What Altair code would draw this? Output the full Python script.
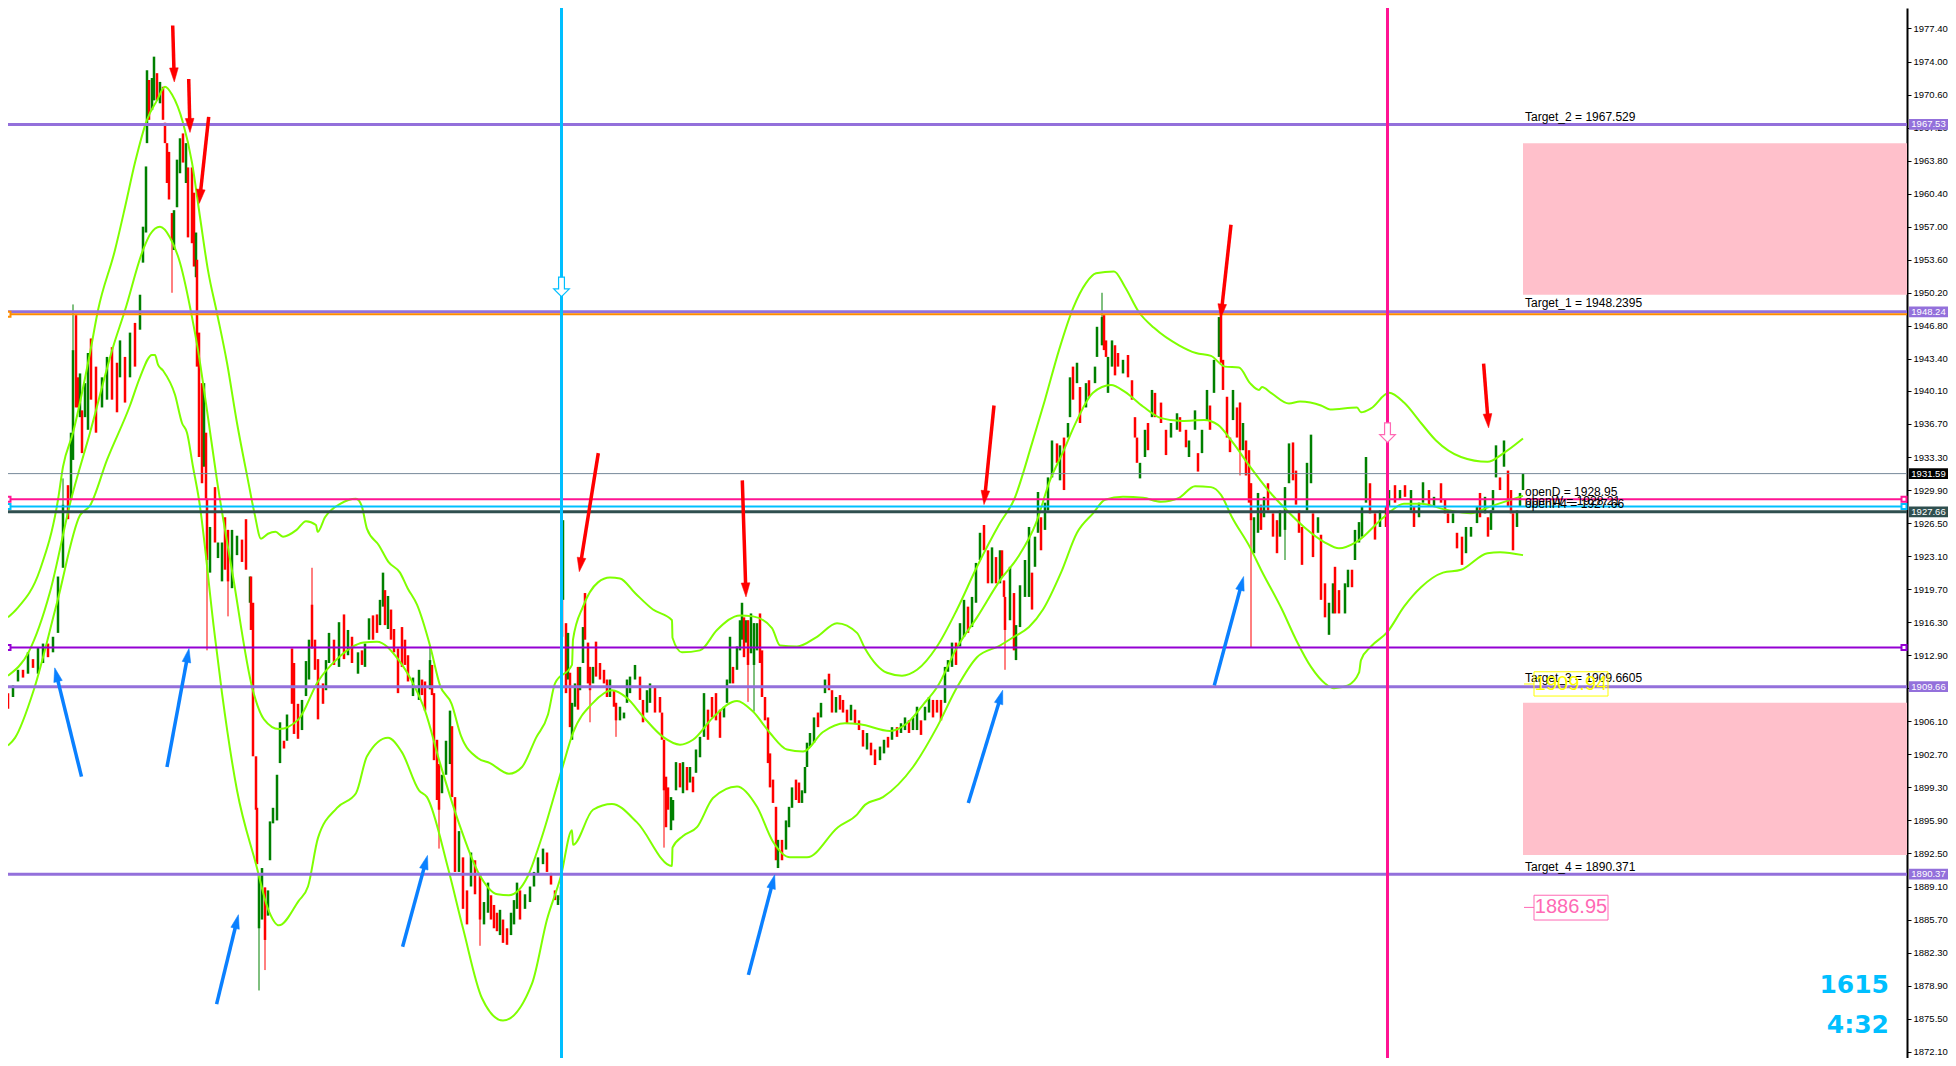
import math
import altair as alt
import pandas as pd

# candle rows: (bar, open, close)
seg_a = [(0,1909.0,1907.4),(5,1908.6,1909.8),(10,1910.2,1911.4),(15,1911.4,1910.6),(20,1911.0,1913.2),(25,1912.5,1911.6),(30,1911.0,1913.7),(35,1912.1,1914.1),(40,1914.1,1912.7),(45,1913.2,1914.8),(50,1915.2,1921.0),(55,1921.9,1928.4),(60,1930.4,1926.9),(63,1928.9,1935.8),(65,1933.0,1944.3),(68,1947.9,1938.4),(70,1941.5,1938.4),(72,1937.4,1941.9),(74,1938.1,1933.7),(77,1937.4,1940.9),(80,1936.1,1944.0),(83,1945.5,1939.2),(88,1942.6,1935.8),(94,1938.4,1941.5),(99,1939.2,1943.6),(104,1944.6,1939.2),(109,1943.0,1937.9),(112,1941.5,1945.3),(117,1943.6,1938.9),(122,1941.5,1946.1),(127,1947.1,1942.6),(132,1946.4,1950.0),(135,1953.3,1957.0),(138,1956.4,1963.2),(139,1965.6,1973.1),(141,1972.1,1968.0),(144,1969.0,1972.3),(146,1970.0,1974.5),(149,1972.8,1970.0),(152,1969.7,1971.9),(155,1971.4,1968.0),(157,1967.7,1965.6),(159,1965.6,1961.5),(161,1964.7,1959.8),(164,1958.4,1955.6),(166,1954.6,1958.7),(169,1959.0,1963.9),(172,1962.5,1966.1),(175,1966.6,1963.6),(178,1961.5,1965.6),(180,1963.1,1955.9),(184,1963.1,1955.3),(186,1960.5,1952.9),(188,1951.8,1956.4),(189,1953.6,1942.6),(191,1946.1,1933.3),(194,1940.9,1930.6),(196,1932.3,1940.9),(198,1935.8,1929.0),(199,1929.0,1922.7)]
seg_b = [(202,1921.4,1926.1),(207,1930.2,1924.5),(210,1922.9,1924.5),(214,1920.5,1924.5),(217,1927.1,1921.7),(220,1925.8,1920.5),(224,1919.8,1925.8),(229,1923.2,1925.2),(234,1924.8,1922.5),(238,1926.9,1921.7),(242,1918.3,1921.0),(243,1921.0,1915.5),(245,1918.3,1902.5),(248,1902.5,1897.0),(249,1897.2,1891.4),(251,1884.8,1890.3),(254,1885.7,1891.0),(257,1889.0,1883.6),(260,1886.1,1888.7),(262,1891.8,1895.8),(265,1895.6,1897.2),(269,1895.9,1900.6),(272,1901.8,1906.0),(276,1904.1,1903.3),(279,1904.1,1906.8),(284,1913.6,1907.9),(286,1912.1,1904.8),(290,1907.9,1904.3),(294,1905.2,1908.3),(298,1908.7,1912.3),(301,1910.4,1914.5),(304,1918.1,1913.6),(307,1914.5,1911.4),(310,1912.5,1906.3),(315,1910.0,1907.9),(318,1909.3,1912.4),(321,1912.1,1915.2),(326,1914.5,1911.9),(331,1911.7,1916.3),(336,1917.1,1912.5),(340,1912.9,1915.5),(344,1914.8,1912.1),(350,1911.0,1913.2),(354,1913.4,1911.9),(357,1911.7,1914.1),(361,1914.5,1916.7),(365,1917.0,1914.5),(369,1917.1,1915.2),(372,1916.0,1918.6),(375,1917.9,1921.4),(377,1919.6,1916.0),(380,1915.6,1919.0),(383,1917.6,1914.5),(386,1915.6,1913.2),(390,1913.6,1909.0),(394,1915.8,1911.7),(397,1914.5,1911.9),(400,1912.9,1910.2)]
seg_c = [(405,1908.7,1910.6),(411,1908.3,1911.4),(414,1910.4,1908.8),(417,1910.2,1907.2),(422,1909.4,1912.4),(424,1911.9,1908.8),(426,1909.0,1902.1),(429,1904.2,1898.0),(431,1901.7,1897.0),(434,1898.7,1900.6),(438,1900.6,1904.1),(442,1901.7,1907.2),(444,1905.6,1898.3),(447,1898.3,1890.6),(451,1890.6,1894.8),(455,1892.1,1886.8),(459,1888.7,1885.2),(463,1889.1,1892.6),(467,1891.8,1888.3),(472,1890.3,1885.7),(476,1885.2,1887.5),(480,1886.4,1889.5),(483,1888.2,1885.7),(486,1887.2,1884.8),(489,1886.4,1884.5),(492,1884.1,1886.7),(495,1885.7,1883.3),(499,1884.8,1883.1),(503,1884.1,1886.4),(506,1885.2,1887.7),(509,1886.8,1889.5),(512,1888.7,1885.7),(517,1886.8,1888.3),(522,1887.5,1889.1),(526,1889.1,1890.6),(530,1890.3,1892.1),(535,1891.4,1893.0),(539,1892.6,1890.6),(543,1890.5,1889.3),(547,1888.7,1887.7),(550,1887.2,1888.2),(553,1887.7,1889.1),(554,1922.7,1914.8),(555,1918.6,1926.8),(558,1916.2,1909.0),(560,1910.4,1915.2),(562,1911.1,1905.5),(564,1904.2,1908.0),(567,1907.6,1910.0),(570,1911.7,1907.3),(572,1909.3,1911.7),(575,1912.1,1915.8),(577,1919.3,1914.5),(580,1914.2,1910.0),(582,1911.7,1909.3),(585,1910.0,1911.7),(588,1914.3,1910.7),(592,1912.1,1910.4),(596,1911.4,1910.0),(599,1910.4,1908.6)]
seg_d = [(602,1908.6,1910.4),(606,1909.3,1907.6),(608,1908.0,1906.2),(612,1906.2,1907.6),(616,1906.4,1907.0),(619,1908.0,1910.4),(622,1909.0,1910.7),(627,1910.4,1911.9),(632,1910.7,1908.3),(635,1908.3,1906.0),(639,1907.0,1909.3),(642,1908.0,1910.0),(647,1909.6,1907.0),(652,1908.6,1907.0),(654,1907.0,1904.2),(656,1904.2,1899.0),(658,1900.4,1895.2),(660,1899.3,1897.0),(663,1894.9,1898.3),(665,1895.9,1898.0),(668,1899.0,1901.9),(672,1901.8,1899.3),(675,1898.7,1901.9),(679,1901.4,1899.0),(682,1899.8,1901.4),(685,1900.4,1898.8),(688,1900.8,1903.2),(692,1902.4,1904.5),(696,1904.5,1909.0),(700,1907.3,1904.2),(704,1908.6,1906.5),(708,1909.0,1906.2),(712,1907.3,1904.4),(716,1906.5,1907.6),(719,1908.0,1910.4),(722,1910.0,1914.8),(725,1911.7,1910.0),(729,1911.4,1913.8),(732,1913.4,1916.5),(734,1914.5,1918.3),(736,1916.8,1912.7),(738,1914.2,1916.5),(740,1916.5,1911.9),(743,1913.1,1917.2),(746,1911.9,1916.2),(749,1913.4,1916.2),(752,1917.2,1912.1),(754,1913.4,1908.6),(757,1908.6,1906.2),(760,1906.5,1901.8),(762,1902.8,1899.3),(765,1900.1,1897.7),(768,1897.3,1891.8),(770,1891.0,1893.9),(774,1893.9,1891.8),(778,1892.9,1895.9),(781,1895.2,1897.3),(784,1897.2,1899.3),(788,1900.1,1898.0),(791,1899.8,1897.7),(794,1897.7,1899.0),(797,1898.7,1901.4),(799,1901.4,1903.9)]
seg_e = [(802,1903.5,1904.9),(806,1903.9,1906.5),(810,1907.0,1905.5),(813,1906.5,1908.0),(817,1909.0,1910.4),(821,1911.0,1909.3),(824,1909.3,1907.0),(828,1907.0,1908.6),(832,1908.8,1907.3),(835,1908.3,1907.0),(839,1907.3,1905.9),(843,1906.2,1907.8),(847,1907.3,1905.9),(851,1906.2,1905.2),(855,1905.2,1903.5),(859,1903.2,1904.9),(863,1903.9,1902.6),(867,1903.2,1901.6),(872,1902.1,1903.5),(876,1902.8,1904.2),(880,1904.5,1903.4),(884,1904.2,1905.5),(889,1905.5,1904.5),(893,1904.9,1905.9),(897,1905.2,1906.5),(901,1906.2,1904.9),(905,1905.2,1906.5),(909,1905.2,1907.6),(913,1906.2,1904.7),(917,1906.2,1907.6),(921,1907.0,1908.6),(925,1908.3,1906.5),(929,1908.3,1907.0),(933,1908.3,1906.2),(937,1908.0,1911.7),(940,1911.2,1912.4),(944,1911.7,1914.2),(948,1914.2,1911.9),(952,1913.8,1916.2),(956,1914.8,1918.6),(960,1917.9,1915.2),(964,1915.8,1918.9),(968,1918.3,1922.4),(972,1922.7,1925.5),(976,1926.3,1923.7),(980,1923.7,1920.3),(984,1920.3,1924.0),(988,1923.0,1920.3),(992,1920.3,1923.7),(994,1923.7,1921.0),(996,1920.6,1918.9),(997,1918.9,1915.5)]
seg_f = [(1002,1916.5,1922.0),(1006,1919.3,1913.4),(1008,1912.4,1916.0),(1012,1915.8,1920.1),(1017,1918.9,1922.7),(1021,1918.9,1926.1),(1024,1921.4,1917.6),(1027,1922.0,1925.1),(1030,1925.5,1929.7),(1033,1927.1,1923.7),(1037,1925.8,1928.6),(1040,1927.8,1931.2),(1044,1931.2,1935.0),(1049,1934.7,1932.7),(1052,1930.9,1934.5),(1056,1935.3,1929.9),(1060,1935.3,1936.8),(1062,1937.4,1941.5),(1065,1942.6,1939.2),(1069,1940.9,1943.0),(1072,1940.5,1936.8),(1078,1938.4,1940.9),(1081,1941.2,1939.5),(1087,1940.9,1942.6),(1089,1943.6,1946.7),(1094,1944.8,1947.7),(1096,1947.9,1944.3),(1098,1945.3,1943.6),(1100,1939.9,1943.6),(1104,1942.6,1945.3),(1107,1944.8,1941.7),(1110,1944.0,1942.6),(1115,1941.9,1943.3),(1120,1943.8,1941.5),(1124,1941.2,1939.2),(1127,1937.4,1935.3),(1129,1935.3,1932.7),(1132,1931.1,1932.7),(1137,1933.3,1936.1),(1140,1936.8,1934.0),(1144,1937.4,1940.2),(1147,1939.9,1937.4),(1153,1938.9,1936.8),(1158,1936.1,1933.5),(1163,1935.3,1936.8),(1169,1936.1,1937.8),(1172,1937.4,1935.9),(1178,1936.1,1934.3),(1181,1933.3,1935.0),(1187,1936.1,1938.1),(1190,1933.7,1931.8),(1194,1933.7,1936.1),(1199,1937.1,1940.2)]
seg_g = [(1202,1938.6,1936.1),(1206,1939.9,1943.3),(1211,1943.6,1947.7),(1213,1948.1,1943.0),(1215,1943.3,1940.2),(1219,1939.5,1935.3),(1222,1935.3,1933.8),(1225,1937.1,1940.2),(1229,1938.4,1935.3),(1232,1938.9,1934.0),(1235,1934.0,1936.8),(1238,1935.0,1931.4),(1241,1934.0,1928.6),(1243,1930.6,1926.8),(1246,1923.4,1927.1),(1250,1925.5,1929.6),(1253,1928.4,1925.8),(1256,1927.1,1929.2),(1260,1930.6,1927.8),(1265,1927.5,1925.1),(1269,1926.8,1923.4),(1272,1925.1,1927.8),(1277,1925.8,1930.2),(1281,1930.6,1934.7),(1285,1934.8,1930.9),(1288,1931.9,1928.4),(1291,1927.8,1925.5),(1294,1926.1,1922.2),(1299,1927.8,1932.7),(1303,1930.6,1935.6),(1305,1927.5,1923.0),(1310,1925.5,1927.1),(1313,1925.3,1918.6),(1317,1920.3,1916.8),(1321,1915.0,1918.3),(1325,1917.2,1920.3),(1327,1922.0,1917.2),(1331,1919.6,1917.2),(1337,1917.2,1920.3),(1340,1919.9,1921.7),(1344,1921.7,1919.9),(1347,1922.7,1925.8),(1351,1924.5,1926.6),(1354,1925.1,1928.2),(1358,1928.6,1933.3),(1362,1930.6,1927.5),(1367,1927.5,1924.8),(1372,1926.1,1927.8),(1378,1928.2,1926.1),(1381,1928.2,1929.9),(1387,1930.4,1928.6),(1392,1928.9,1929.9),(1397,1930.4,1929.2)]
seg_h = [(1403,1927.8,1929.9),(1406,1928.2,1926.1),(1411,1927.1,1928.6),(1415,1928.6,1930.7),(1421,1929.9,1928.2),(1426,1928.2,1929.2),(1433,1930.6,1928.6),(1437,1928.9,1927.5),(1440,1927.5,1926.5),(1445,1926.5,1927.5),(1449,1925.5,1923.9),(1454,1925.1,1922.2),(1458,1923.4,1926.1),(1463,1925.1,1926.1),(1469,1926.5,1928.2),(1472,1929.6,1927.1),(1477,1927.5,1929.2),(1480,1927.1,1925.1),(1483,1925.8,1927.8),(1485,1927.8,1929.9),(1488,1931.2,1934.5),(1492,1931.2,1929.9),(1496,1932.3,1935.0),(1500,1931.9,1928.2),(1503,1929.9,1927.5),(1505,1927.5,1923.7),(1509,1926.1,1927.8),(1512,1928.2,1929.6),(1515,1929.9,1931.6)]

# thin wicks: (bar, high, low)
wicks = [(55,1931.1,1928.4),(65,1949.0,1944.3),(164,1958.4,1950.2),(199,1929.0,1913.4),(220,1925.8,1916.9),(251,1890.3,1878.4),(257,1889.0,1880.5),(304,1921.9,1913.6),(422,1913.8,1909.4),(431,1901.7,1893.0),(472,1890.3,1883.0),(554,1929.7,1914.8),(582,1911.7,1906.0),(608,1908.0,1904.5),(656,1904.2,1893.1),(740,1916.5,1908.1),(746,1916.2,1907.1),(997,1918.9,1911.4),(1094,1950.2,1944.8),(1232,1938.9,1931.4),(1243,1930.6,1913.7),(1277,1930.2,1922.7)]

band_upper = [(0,1916.8),(9,1917.7),(32,1921.7),(50,1928.9),(55,1932.3),(65,1935.8),(82,1944.0),(90,1948.4),(107,1954.6),(117,1959.0),(127,1963.6),(139,1968.0),(149,1970.0),(157,1971.4),(164,1970.6),(175,1967.7),(184,1963.6),(192,1958.0),(200,1952.5),(209,1948.1),(219,1943.0),(229,1936.8),(240,1930.9),(246.5,1927.5),(253,1924.9),(260,1925.4),(267.5,1925.6),(275,1925.1),(288.6,1925.8),(298,1926.7),(308,1926.3),(309.6,1925.6),(317,1927.1),(332.6,1928.5),(348,1929.0),(353.6,1928.3),(359,1925.9),(371,1924.2),(380.4,1922.5),(392,1921.4),(399.6,1919.8),(409,1918.1),(422.5,1913.7),(432,1909.8),(443.6,1907.9),(453,1904.6),(470,1902.3),(482,1901.8),(501,1900.7),(514,1901.4),(528,1904.4),(540,1906.8),(547,1910.0),(564,1911.9),(565,1914.5),(575,1917.9),(590,1920.4),(602,1920.9),(612,1920.8),(627,1919.3),(645,1917.6),(664,1916.5),(664.5,1914.7),(674,1913.2),(692,1913.4),(709,1915.5),(732,1917.0),(745,1916.9),(764,1915.7),(772,1913.9),(789,1913.8),(809,1914.8),(829,1916.2),(849,1915.2),(857,1913.6),(879,1911.1),(894,1910.8),(909,1911.4),(929,1913.8),(949,1917.6),(969,1922.0),(992,1926.5),(1006,1928.9),(1024,1934.7),(1037,1939.2),(1051,1944.3),(1065,1948.6),(1078,1951.2),(1088,1952.2),(1106,1952.4),(1117,1950.8),(1131,1948.2),(1146,1946.6),(1171,1944.8),(1188,1944.0),(1203,1943.7),(1217,1942.6),(1231,1942.5),(1242,1940.9),(1251,1940.2),(1254,1940.5),(1263,1939.9),(1281,1938.8),(1292,1939.0),(1313,1938.6),(1322,1938.2),(1349,1938.4),(1353,1937.9),(1363,1938.3),(1381,1939.9),(1396,1938.9),(1413,1936.8),(1428,1935.0),(1453,1933.3),(1479.5,1932.8),(1495.6,1933.7),(1515,1935.2)]
band_mid = [(0,1910.8),(21,1913.3),(42,1919.4),(63,1928.9),(82,1935.8),(105,1944.6),(117,1948.4),(135,1954.6),(142,1956.2),(152,1957.0),(162,1955.9),(172,1953.3),(184,1947.7),(190,1944.3),(199,1938.1),(209,1930.9),(225,1921.0),(244.6,1909.4),(256,1906.3),(271,1905.3),(290.5,1906.3),(310,1910.2),(329,1912.5),(355.6,1914.2),(369,1914.3),(390,1912.5),(405,1910.0),(417,1907.2),(432,1901.8),(451,1895.6),(470,1890.6),(489.5,1888.3),(501,1888.2),(520,1890.2),(532,1893.6),(553.7,1901.1),(565,1904.9),(585,1908.0),(604,1909.3),(619,1908.5),(635,1906.6),(655,1904.5),(672,1903.7),(685,1904.2),(705,1906.5),(729,1908.2),(745,1907.1),(762,1904.9),(779,1903.2),(795,1903.0),(815,1905.0),(837,1905.9),(852,1905.8),(882,1905.1),(899,1905.9),(915,1907.8),(929,1909.6),(949,1913.7),(969,1916.8),(992,1920.6),(1010,1923.0),(1028,1926.5),(1042,1930.9),(1054.5,1933.7),(1069,1937.1),(1085,1939.9),(1103,1940.7),(1117,1940.0),(1135,1938.5),(1153,1937.3),(1174,1937.0),(1196,1937.1),(1210,1936.6),(1224,1934.9),(1242,1932.3),(1260,1929.9),(1278,1927.9),(1296,1926.1),(1317,1924.5),(1331,1923.9),(1349,1924.6),(1378,1927.3),(1396,1928.5),(1413,1928.5),(1437,1927.9),(1463,1927.5),(1479.5,1928.1),(1515,1929.3)]
band_lower = [(0,1903.6),(7,1904.4),(26,1909.4),(49,1918.3),(72,1927.3),(82,1928.3),(99,1933.0),(122,1938.6),(132,1941.5),(144,1943.8),(147,1943.8),(150,1942.8),(155,1942.2),(167,1939.7),(174,1936.8),(179,1935.8),(185,1932.3),(191,1928.9),(206,1915.6),(214,1909.0),(229,1899.0),(248,1891.4),(260,1886.8),(271,1885.1),(290.5,1887.6),(300,1889.1),(310,1894.1),(329,1897.2),(348,1898.7),(359,1902.5),(380,1904.4),(394,1902.9),(411,1899.0),(419,1898.3),(440,1891.0),(455,1884.8),(474,1877.6),(495,1875.3),(524,1879.1),(539,1885.7),(553,1890.2),(564,1894.9),(565,1893.4),(585,1897.0),(604,1897.6),(629,1895.7),(664,1891.2),(664.5,1893.1),(675,1894.3),(689,1895.2),(705,1898.2),(729,1899.4),(749,1897.3),(765,1893.7),(782,1892.1),(799,1892.1),(830,1895.2),(849,1896.5),(857,1897.5),(875,1898.3),(905,1901.4),(929,1905.5),(949,1909.6),(969,1912.7),(992,1913.9),(1006,1914.8),(1021,1915.8),(1035,1917.6),(1053,1921.4),(1069,1925.5),(1085,1927.5),(1097,1928.9),(1115,1929.2),(1135,1929.1),(1153,1928.7),(1171,1929.1),(1187,1930.3),(1203,1930.2),(1213,1929.4),(1224,1927.1),(1242,1924.0),(1253,1921.7),(1274,1917.6),(1288,1914.5),(1303,1911.7),(1317,1910.0),(1326,1909.5),(1340,1909.8),(1351,1911.1),(1353,1912.4),(1363,1913.8),(1379.5,1915.3),(1396,1917.9),(1413,1919.9),(1435,1921.4),(1453,1921.7),(1479.5,1923.4),(1492,1923.5),(1515,1923.2)]

# horizontal levels: price, colour, width
levels = [(1967.53,"#9370DB",3),(1948.24,"#9370DB",3),(1948.0,"#FF8C00",2),(1931.59,"#778899",1),(1928.95,"#FF1493",2),(1928.2,"#00BFFF",2),(1927.66,"#2F4F4F",3),(1913.7,"#9400D3",2),(1909.66,"#9370DB",3),(1890.37,"#9370DB",3)]
verticals = [(553.5,"#00BFFF"),(1379.5,"#FF1493")]
zones = [(1515,1899,1965.6,1950.0),(1515,1899,1908.0,1892.35)]
# arrows: bar0, price0, bar1(tip), price1(tip)
red_arrows = [(164.7,1977.7,166.3,1971.9),(180.7,1972.2,182,1966.7),(200.7,1968.3,191.3,1959.4),(590.3,1933.7,571.3,1921.5),(734.3,1930.9,738,1918.9),(986,1938.6,976,1928.4),(1223,1957.2,1212.7,1947.6),(1475.6,1942.9,1480.6,1936.3)]
blue_arrows = [(73.5,1900.4,46.7,1911.6),(159,1901.4,181,1913.6),(208.6,1877.0,230.4,1886.2),(394.6,1882.9,419.5,1892.3),(740.4,1880.0,766.7,1890.3),(960.3,1897.7,994.7,1909.3),(1206.3,1909.8,1235.6,1921.0)]
hollow_arrows = [(553.5,1950.8,"#00BFFF"),(1379.5,1935.8,"#FF69B4")]
target_labels = [("Target_2 = 1967.529",1968.3),("Target_1 = 1948.2395",1949.1),("Target_3 = 1909.6605",1910.6),("Target_4 = 1890.371",1891.1),("openD = 1928.95",1929.7),("openW = 1928.21",1928.8),("openH4 = 1927.66",1928.5)]
tick_values = [1977.40,1974.00,1970.60,1967.20,1963.80,1960.40,1957.00,1953.60,1950.20,1946.80,1943.40,1940.10,1936.70,1933.30,1929.90,1926.50,1923.10,1919.70,1916.30,1912.90,1909.50,1906.10,1902.70,1899.30,1895.90,1892.50,1889.10,1885.70,1882.30,1878.90,1875.50,1872.10]
price_flags = [(1967.53,"#9370DB"),(1948.24,"#9370DB"),(1931.59,"#000000"),(1927.66,"#2F4F4F"),(1909.66,"#9370DB"),(1890.37,"#9370DB")]
squares = [(0,1948.0,"#FF8C00"),(0,1928.95,"#FF1493"),(0,1928.2,"#00BFFF"),(0,1913.7,"#9400D3"),(1896,1928.95,"#FF1493"),(1896,1928.2,"#00BFFF"),(1896,1913.7,"#9400D3")]
boxed = [("1909.94",1909.94,1911.2,1908.7,"#FFFF00"),("1886.95",1886.95,1888.2,1885.65,"#FF69B4")]
clock = [("1615",1879.0),("4:32",1874.85)]

W, H = 1899, 1050
Y_TOP, Y_BOT = 1980.33 - 8 * 0.10291, 1980.33 - 1058 * 0.10291
xs = alt.Scale(domain=[0, W], nice=False, zero=False)
ys = alt.Scale(domain=[Y_BOT, Y_TOP], nice=False, zero=False)
PX = H / (Y_TOP - Y_BOT)
AXIS = alt.Axis(
    orient="right", values=tick_values, format=".2f", grid=False,
    domainColor="#000000", domainWidth=2, tickColor="#000000", tickSize=4,
    labelColor="#000000", labelFont="Liberation Sans", labelFontSize=9.5,
    labelPadding=2, title=None)
X = lambda f: alt.X(f, type="quantitative", scale=xs, axis=None)
Y = lambda f: alt.Y(f, type="quantitative", scale=ys, axis=AXIS)

rows = seg_a + seg_b + seg_c + seg_d + seg_e + seg_f + seg_g + seg_h
candles = pd.DataFrame(rows, columns=["bar", "open", "close"])
candles["col"] = ["#008000" if c > o else "#FF0000" for o, c in zip(candles.open, candles.close)]
colmap = dict(zip(candles.bar, candles.col))
wk = pd.DataFrame(wicks, columns=["bar", "high", "low"])
wk["col"] = wk.bar.map(colmap)

c = lambda col: alt.Color(col, type="nominal", scale=None, legend=None)

zone_df = pd.DataFrame(zones, columns=["x", "x2", "y", "y2"])
zone_layer = alt.Chart(zone_df).mark_rect(color="#FFC0CB").encode(x=X("x"), x2="x2:Q", y=Y("y"), y2="y2:Q")

wick_layer = alt.Chart(wk).mark_rule(strokeWidth=1).encode(x=X("bar"), y=Y("high"), y2="low:Q", color=c("col"))
body_layer = alt.Chart(candles).mark_rule(strokeWidth=2.5).encode(x=X("bar"), y=Y("open"), y2="close:Q", color=c("col"))

band_layers = [
    alt.Chart(pd.DataFrame(b, columns=["bar", "p"])).mark_line(color="#7FFF00", strokeWidth=2, interpolate="monotone").encode(
        x=X("bar"), y=Y("p"), order="bar:Q")
    for b in (band_upper, band_mid, band_lower)
]

level_df = pd.DataFrame(levels, columns=["p", "col", "w"])
level_layer = alt.Chart(level_df).mark_rule().encode(
    y=Y("p"), color=c("col"), strokeWidth=alt.StrokeWidth("w:Q", scale=None, legend=None))
vert_df = pd.DataFrame(verticals, columns=["bar", "col"])
vert_layer = alt.Chart(vert_df).mark_rule(strokeWidth=3).encode(x=X("bar"), color=c("col"))

sq_df = pd.DataFrame(squares, columns=["bar", "p", "col"])
sq_layer = alt.Chart(sq_df).mark_point(shape="square", size=25, filled=False, fill="#FFFFFF", fillOpacity=1, opacity=1, strokeWidth=2).encode(
    x=X("bar"), y=Y("p"), stroke=alt.Stroke("col:N", scale=None, legend=None))


def arrow_layers(arrows, color):
    shaft, head = [], []
    for b0, p0, b1, p1 in arrows:
        dx, dy = b1 - b0, (p0 - p1) * PX
        L = math.hypot(dx, dy)
        ux, uy = dx / L, dy / L
        bc, pc = b1 - 7 * ux, p1 + 7 * uy / PX
        shaft.append({"x": b0, "y": p0, "x2": bc, "y2": pc})
        head.append({"x": bc, "y": pc, "a": (math.degrees(math.atan2(-ux, uy))) % 360})
    s = alt.Chart(pd.DataFrame(shaft)).mark_rule(color=color, strokeWidth=3.5).encode(
        x=X("x"), x2="x2:Q", y=Y("y"), y2="y2:Q")
    h = alt.Chart(pd.DataFrame(head)).mark_point(
        shape="M-0.62,-1L0.62,-1L0,1Z", size=196, filled=False, fill=color, fillOpacity=1, stroke=color, opacity=1, strokeWidth=0.5
    ).encode(x=X("x"), y=Y("y"), angle=alt.Angle("a:Q", scale=None))
    return [s, h]


hollow_df = pd.DataFrame(hollow_arrows, columns=["bar", "p", "col"])
hollow_layer = alt.Chart(hollow_df).mark_point(
    shape="M-0.3,-1L0.3,-1L0.3,0.2L0.8,0.2L0,1L-0.8,0.2L-0.3,0.2Z", size=380, filled=False,
    fill="#FFFFFF", fillOpacity=1, opacity=1, strokeWidth=1.2
).encode(x=X("bar"), y=Y("p"), stroke=alt.Stroke("col:N", scale=None, legend=None))

lab_df = pd.DataFrame(target_labels, columns=["t", "p"])
lab_df["bar"] = 1517
lab_layer = alt.Chart(lab_df).mark_text(align="left", baseline="middle", font="Liberation Sans", fontSize=12, color="#000000").encode(
    x=X("bar"), y=Y("p"), text="t:N")

bx = pd.DataFrame(boxed, columns=["t", "p", "y", "y2", "col"])
bx["x"], bx["x2"], bx["tx0"], bx["tc"] = 1526, 1600, 1516, 1563
box_layer = alt.Chart(bx).mark_rect(fillOpacity=0, strokeWidth=1).encode(
    x=X("x"), x2="x2:Q", y=Y("y"), y2="y2:Q", stroke=alt.Stroke("col:N", scale=None, legend=None))
box_tick = alt.Chart(bx).mark_rule(strokeWidth=1).encode(x=X("tx0"), x2="x:Q", y=Y("p"), color=c("col"))
box_text = alt.Chart(bx).mark_text(align="center", baseline="middle", font="Liberation Sans", fontSize=20).encode(
    x=X("tc"), y=Y("p"), text="t:N", color=c("col"))

fl = pd.DataFrame(price_flags, columns=["p", "col"])
fl["y"], fl["y2"], fl["t"] = fl.p + 0.55, fl.p - 0.55, fl.p.map(lambda v: f"{v:.2f}")
fl["x"], fl["x2"], fl["tc"] = 1901, 1940, 1920.5
flag_rect = alt.Chart(fl).mark_rect().encode(x=X("x"), x2="x2:Q", y=Y("y"), y2="y2:Q", color=c("col"))
flag_text = alt.Chart(fl).mark_text(align="center", baseline="middle", font="Liberation Sans", fontSize=9.5, color="#FFFFFF").encode(
    x=X("tc"), y=Y("p"), text="t:N")

cl = pd.DataFrame(clock, columns=["t", "p"])
cl["bar"] = 1881
clock_layer = alt.Chart(cl).mark_text(align="right", baseline="middle", font="DejaVu Sans", fontWeight="bold", fontSize=25, color="#00BFFF").encode(
    x=X("bar"), y=Y("p"), text="t:N")

chart = alt.layer(
    zone_layer, wick_layer, body_layer, *band_layers, level_layer, vert_layer, sq_layer,
    *arrow_layers(red_arrows, "#FF0000"), *arrow_layers(blue_arrows, "#0A80FF"),
    hollow_layer, lab_layer, box_tick, box_layer, box_text, flag_rect, flag_text, clock_layer,
).properties(
    width=W, height=H, background="#FFFFFF",
    autosize=alt.AutoSizeParams(type="none"),
    padding={"left": 0, "top": 0, "right": 41, "bottom": 0},
).configure_view(stroke=None)

chart.save("out.html", embed_options={"renderer": "svg", "actions": False})
